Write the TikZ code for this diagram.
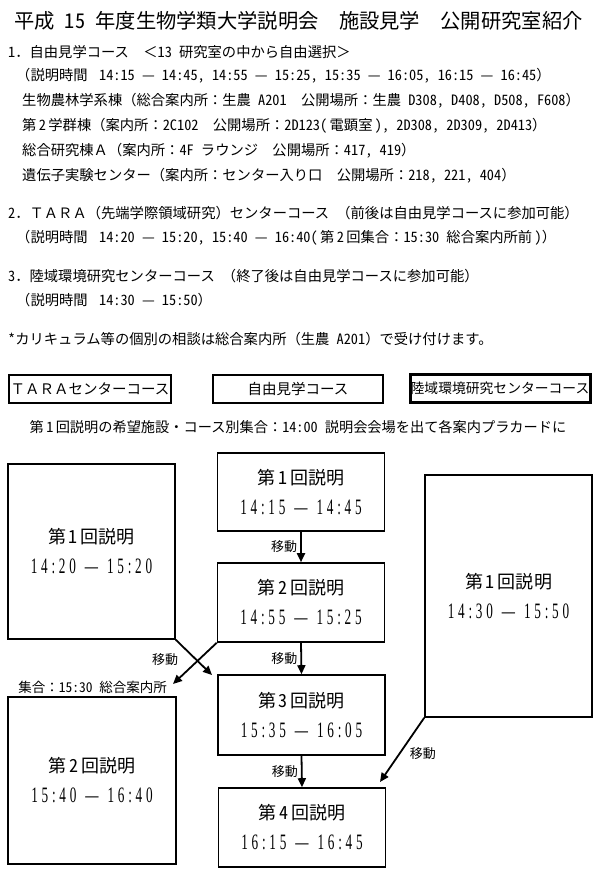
\documentclass[tikz,border=0pt]{standalone}
\usepackage{fontspec}
\setmainfont{Noto Sans CJK JP}[RawFeature=+hwid]
\newfontfamily\fwfont{Noto Sans CJK JP}
\newfontfamily\timefont[FakeStretch=0.6,LetterSpace=17]{Liberation Serif}
\usetikzlibrary{positioning,arrows.meta,calc}

\newcommand{\fw}[1]{{\fwfont #1}}
\newcommand{\sesstext}[3]{第\,#1\,回説明\\{\timefont\fontsize{22}{30}\selectfont #2\hspace{9pt}—\hspace{9pt}#3}}

\begin{document}
\begin{tikzpicture}[x=1pt,y=-1pt,
  txt/.style={anchor=west,inner sep=0pt,font=\fontsize{14.3}{16}\selectfont},
  course/.style={draw,line width=2.2pt,inner sep=0pt,minimum height=28pt,font=\fontsize{14.5}{16}\selectfont},
  sess/.style={draw,line width=1.6pt,inner sep=0pt,align=center,minimum width=167pt,font=\fontsize{18}{30}\selectfont},
  move/.style={line width=1.8pt,-{Triangle[length=9pt,width=8pt]}},
  movelbl/.style={font=\fontsize{13}{14}\selectfont,inner sep=3pt}]
  \useasboundingbox (0,0) rectangle (600,875);

  % ── Heading and notes ──
  \node[anchor=west,inner sep=0pt,font=\fontsize{20.3}{22}\selectfont] (title) at (14,21)
    {平成 15 年度生物学類大学説明会\hspace{1em}施設見学\hspace{1em}公開研究室紹介};
  \node[txt] (c1) at (8,52) {1\fw{．}自由見学コース\hspace{1em}\fw{＜}13 研究室の中から自由選択\fw{＞}};
  \node[txt] (c1t) at (16,76) {\fw{（}説明時間\hspace{0.8em}14:15 — 14:45, 14:55 — 15:25, 15:35 — 16:05, 16:15 — 16:45\fw{）}};
  \node[txt] (bA) at (22,101) {生物農林学系棟\fw{（}総合案内所\fw{：}生農 A201\hspace{1em}公開場所\fw{：}生農 D308, D408, D508, F608\fw{）}};
  \node[txt] (bB) at (22,126) {第\,2\,学群棟\fw{（}案内所\fw{：}2C102\hspace{1em}公開場所\fw{：}2D123(\,電顕室\,), 2D308, 2D309, 2D413\fw{）}};
  \node[txt] (bC) at (22,151) {総合研究棟\fw{Ａ（}案内所\fw{：}4F ラウンジ\hspace{1em}公開場所\fw{：}417, 419\fw{）}};
  \node[txt] (bD) at (22,176) {遺伝子実験センター\fw{（}案内所\fw{：}センター入り口\hspace{1em}公開場所\fw{：}218, 221, 404\fw{）}};
  \node[txt] (c2) at (8,213) {2\fw{．ＴＡＲＡ（}先端学際領域研究\fw{）}センターコース\hspace{0.5em}\fw{（}前後は自由見学コースに参加可能\fw{）}};
  \node[txt] (c2t) at (16,238) {\fw{（}説明時間\hspace{0.8em}14:20 — 15:20, 15:40 — 16:40(\,第\,2\,回集合\fw{：}15:30 総合案内所前\,)\fw{）}};
  \node[txt] (c3) at (8,276) {3\fw{．}陸域環境研究センターコース\hspace{0.5em}\fw{（}終了後は自由見学コースに参加可能\fw{）}};
  \node[txt] (c3t) at (16,300) {\fw{（}説明時間\hspace{0.8em}14:30 — 15:50\fw{）}};
  \node[txt] (note) at (8,339) {*カリキュラム等の個別の相談は総合案内所\fw{（}生農 A201\fw{）}で受け付けます。};

  % ── Course placards ──
  \node[course,minimum width=162pt] (taraC) at (90,389) {\fw{ＴＡＲＡ}センターコース};
  \node[course,minimum width=170pt,line width=2pt] (freeC) at (298,389) {自由見学コース};
  \node[course,minimum width=180pt,line width=3pt,font=\fontsize{13.8}{16}\selectfont] (rikuC) at (500,388.5) {陸域環境研究センターコース};
  \node[inner sep=0pt,font=\fontsize{14.2}{16}\selectfont] (meet) at (298,427)
    {第\,1\,回説明の希望施設・コース別集合\fw{：}14:00 説明会会場を出て各案内プラカードに};

  % ── Sessions ──
  \node[sess,minimum height=175pt] (t1) at (91.5,551.5) {\sesstext{1}{14:20}{15:20}};
  \node[sess,minimum height=167pt,minimum width=168pt] (t2) at (92,780.5) {\sesstext{2}{15:40}{16:40}};
  \node[sess,minimum height=78pt] (f1) at (301,492) {\sesstext{1}{14:15}{14:45}};
  \node[sess,minimum height=79pt] (f2) at (301,602.5) {\sesstext{2}{14:55}{15:25}};
  \node[sess,minimum height=80pt] (f3) at (301.5,715) {\sesstext{3}{15:35}{16:05}};
  \node[sess,minimum height=79pt] (f4) at (302,827.5) {\sesstext{4}{16:15}{16:45}};
  \node[sess,minimum height=242pt] (r1) at (508.5,596) {\sesstext{1}{14:30}{15:50}};

  % ── Moves ──
  \draw[move] (f1.south) -- node[movelbl,left] {移動} (f2.north);
  \draw[move] (f2.south) -- node[movelbl,left] {移動} (f3.north);
  \draw[move] (f3.south) -- node[movelbl,left] {移動} (f4.north);

  \coordinate (tipA) at (212,675);
  \coordinate (tipB) at (173,684);
  \coordinate (tipC) at (380,782);
  \draw[move] (t1.south east) -- (tipA);
  \draw[move] (f2.south west) -- (tipB);
  \node[movelbl] (mvX) at (165,660) {移動};
  \node[anchor=east,inner sep=0pt,font=\fontsize{13.5}{15}\selectfont] (gather) at (167,687) {集合\fw{：}15:30 総合案内所};
  \draw[move] (r1.south west) -- node[movelbl,pos=0.55,right=6pt] {移動} (tipC);
\end{tikzpicture}
\end{document}
